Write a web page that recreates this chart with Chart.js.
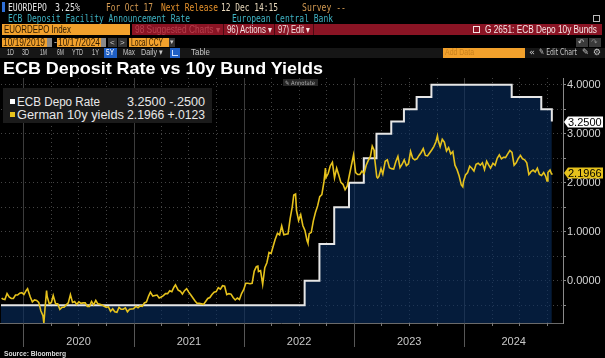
<!DOCTYPE html>
<html><head><meta charset="utf-8">
<script src="https://cdn.jsdelivr.net/npm/chart.js@4.4.1/dist/chart.umd.min.js"></script>
<style>
html,body{margin:0;padding:0;background:#000;width:605px;height:358px;overflow:hidden}
#wrap{position:relative;width:605px;height:358px}
#c{position:absolute;left:0;top:0}
.t{position:absolute;white-space:nowrap;transform-origin:0 50%}
.b{position:absolute;box-sizing:border-box}
</style></head><body>
<div id="wrap"><canvas id="c" width="605" height="358"></canvas><div id="ov"></div></div>
<script>
// ---------------- DATA ----------------
const ecbDates = ['2019-10-19','2022-07-21','2022-09-08','2022-10-27','2022-12-15','2023-02-02','2023-03-16','2023-05-04','2023-06-15','2023-07-27','2023-09-14','2024-06-06','2024-09-12','2024-10-17'];
const ecbValues = [-0.5,0,0.75,1.5,2.0,2.5,3.0,3.25,3.5,3.75,4.0,3.75,3.5,3.25];

const yieldDates = ['2019-10-21','2019-10-25','2019-11-01','2019-11-08','2019-11-15','2019-11-22','2019-11-29','2019-12-06','2019-12-13','2019-12-20','2019-12-27',
'2020-01-03','2020-01-10','2020-01-15','2020-01-24','2020-01-31','2020-02-07','2020-02-14','2020-02-21','2020-02-28','2020-03-06','2020-03-09','2020-03-13','2020-03-18','2020-03-20','2020-03-27','2020-04-03','2020-04-09','2020-04-17','2020-04-24','2020-05-01','2020-05-08','2020-05-15','2020-05-22','2020-05-29','2020-06-05','2020-06-12','2020-06-19','2020-06-26','2020-07-03','2020-07-10','2020-07-17','2020-07-24','2020-07-31','2020-08-07','2020-08-14','2020-08-21','2020-08-28','2020-09-04','2020-09-11','2020-09-18','2020-09-25','2020-10-02','2020-10-09','2020-10-16','2020-10-23','2020-10-30','2020-11-06','2020-11-13','2020-11-20','2020-11-27','2020-12-04','2020-12-11','2020-12-18','2020-12-31',
'2021-01-08','2021-01-15','2021-01-22','2021-01-29','2021-02-05','2021-02-12','2021-02-19','2021-02-25','2021-03-05','2021-03-12','2021-03-19','2021-03-26','2021-04-02','2021-04-09','2021-04-16','2021-04-23','2021-04-30','2021-05-07','2021-05-14','2021-05-19','2021-05-28','2021-06-04','2021-06-11','2021-06-18','2021-06-25','2021-07-02','2021-07-09','2021-07-16','2021-07-23','2021-07-30','2021-08-06','2021-08-13','2021-08-20','2021-08-27','2021-09-03','2021-09-10','2021-09-17','2021-09-24','2021-10-01','2021-10-08','2021-10-15','2021-10-22','2021-10-29','2021-11-05','2021-11-12','2021-11-19','2021-11-26','2021-12-03','2021-12-10','2021-12-17','2021-12-24','2021-12-31',
'2022-01-07','2022-01-14','2022-01-21','2022-01-28','2022-02-04','2022-02-11','2022-02-16','2022-02-18','2022-02-25','2022-03-04','2022-03-11','2022-03-18','2022-03-25','2022-04-01','2022-04-08','2022-04-14','2022-04-22','2022-04-29','2022-05-06','2022-05-13','2022-05-20','2022-05-27','2022-06-03','2022-06-10','2022-06-15','2022-06-21','2022-06-24','2022-07-01','2022-07-08','2022-07-15','2022-07-22','2022-07-29','2022-08-01','2022-08-05','2022-08-12','2022-08-19','2022-08-26','2022-09-02','2022-09-09','2022-09-16','2022-09-23','2022-09-28','2022-09-30','2022-10-07','2022-10-14','2022-10-21','2022-10-28','2022-11-04','2022-11-11','2022-11-18','2022-11-25','2022-12-02','2022-12-09','2022-12-16','2022-12-23','2022-12-30',
'2023-01-06','2023-01-13','2023-01-20','2023-01-27','2023-02-03','2023-02-10','2023-02-17','2023-02-24','2023-03-02','2023-03-08','2023-03-10','2023-03-17','2023-03-20','2023-03-24','2023-03-31','2023-04-06','2023-04-14','2023-04-21','2023-04-28','2023-05-05','2023-05-12','2023-05-19','2023-05-26','2023-06-02','2023-06-09','2023-06-16','2023-06-23','2023-06-30','2023-07-07','2023-07-14','2023-07-21','2023-07-28','2023-08-04','2023-08-11','2023-08-18','2023-08-25','2023-09-01','2023-09-08','2023-09-15','2023-09-22','2023-09-29','2023-10-04','2023-10-06','2023-10-13','2023-10-20','2023-10-27','2023-11-03','2023-11-10','2023-11-17','2023-11-24','2023-12-01','2023-12-08','2023-12-15','2023-12-22','2023-12-27','2023-12-29',
'2024-01-05','2024-01-12','2024-01-19','2024-01-26','2024-02-02','2024-02-09','2024-02-16','2024-02-23','2024-03-01','2024-03-08','2024-03-15','2024-03-22','2024-03-28','2024-04-05','2024-04-12','2024-04-19','2024-04-26','2024-05-03','2024-05-10','2024-05-17','2024-05-24','2024-05-31','2024-06-07','2024-06-14','2024-06-21','2024-06-28','2024-07-05','2024-07-12','2024-07-19','2024-07-26','2024-08-02','2024-08-05','2024-08-09','2024-08-16','2024-08-23','2024-08-30','2024-09-06','2024-09-13','2024-09-20','2024-09-27','2024-10-01','2024-10-04','2024-10-11','2024-10-16','2024-10-17'];
const yieldValues = [-0.35,-0.37,-0.38,-0.26,-0.33,-0.36,-0.36,-0.29,-0.29,-0.25,-0.24,
-0.28,-0.20,-0.16,-0.33,-0.43,-0.39,-0.40,-0.44,-0.61,-0.71,-0.86,-0.55,-0.20,-0.32,-0.47,-0.44,-0.30,-0.47,-0.47,-0.58,-0.54,-0.54,-0.49,-0.45,-0.28,-0.44,-0.42,-0.48,-0.43,-0.46,-0.45,-0.45,-0.52,-0.52,-0.42,-0.49,-0.40,-0.47,-0.48,-0.49,-0.52,-0.54,-0.53,-0.62,-0.57,-0.63,-0.64,-0.54,-0.58,-0.58,-0.55,-0.63,-0.58,-0.57,
-0.52,-0.55,-0.51,-0.52,-0.45,-0.43,-0.31,-0.23,-0.31,-0.30,-0.29,-0.35,-0.33,-0.30,-0.26,-0.26,-0.20,-0.22,-0.13,-0.08,-0.19,-0.21,-0.27,-0.20,-0.16,-0.23,-0.29,-0.35,-0.41,-0.46,-0.46,-0.47,-0.48,-0.42,-0.36,-0.34,-0.28,-0.23,-0.22,-0.14,-0.17,-0.10,-0.11,-0.28,-0.26,-0.27,-0.34,-0.39,-0.35,-0.38,-0.26,-0.18,
-0.05,-0.05,-0.06,-0.05,0.20,0.29,0.30,0.19,0.21,-0.07,0.27,0.37,0.58,0.56,0.71,0.84,0.97,0.94,1.12,0.94,0.95,0.96,1.27,1.51,1.75,1.77,1.44,1.23,1.35,1.13,1.03,0.82,0.77,0.96,0.99,1.23,1.40,1.53,1.72,1.76,2.02,2.30,2.11,2.19,2.35,2.42,2.10,2.30,2.16,2.01,1.97,1.86,1.93,2.15,2.36,2.57,
2.21,2.17,2.17,2.24,2.19,2.36,2.46,2.54,2.75,2.67,2.50,2.12,2.10,2.13,2.29,2.18,2.44,2.47,2.31,2.29,2.28,2.43,2.54,2.31,2.38,2.47,2.35,2.39,2.64,2.50,2.47,2.49,2.56,2.62,2.70,2.56,2.55,2.61,2.67,2.74,2.84,2.96,2.88,2.74,2.89,2.83,2.65,2.72,2.59,2.64,2.36,2.27,2.14,1.96,1.92,2.02,
2.16,2.21,2.34,2.30,2.24,2.38,2.40,2.36,2.41,2.27,2.44,2.36,2.30,2.40,2.36,2.50,2.57,2.49,2.52,2.52,2.59,2.66,2.62,2.36,2.41,2.50,2.56,2.49,2.47,2.41,2.17,2.19,2.23,2.26,2.22,2.30,2.17,2.15,2.21,2.13,2.04,2.21,2.26,2.18,2.1966];

const yearLabels = ['2020','2021','2022','2023','2024'];
const yTickValues = [-0.5,0,0.5,1,1.5,2,2.5,3,3.5,4];
const seriesNames = ['ECB Depo Rate','German 10y yields'];
const seriesLast = ['3.2500','2.1966'];
const seriesChange = ['-.2500','+.0123'];
const xStart = '2019-10-19', xEnd = '2024-11-23';

// ---------------- HELPERS ----------------
const ts = s => Date.parse(s + 'T00:00:00Z');
const ECB_COL = '#e6e6e6', YLD_COL = '#e6c21c';
const FONT = "'Liberation Sans', Arial, sans-serif";
const MONO = "'DejaVu Sans Mono', 'Liberation Mono', monospace";
const DJ = "'DejaVu Sans', sans-serif";
const ov = document.getElementById('ov');

function box(x,y,w,h,bg,extra){const d=document.createElement('div');d.className='b';Object.assign(d.style,{left:x+'px',top:y+'px',width:w+'px',height:h+'px',background:bg});if(extra)Object.assign(d.style,extra);ov.appendChild(d);return d;}
function txt(x,yc,w,s,color,font,size,weight){const d=document.createElement('div');d.className='t';d.textContent=s;Object.assign(d.style,{left:x+'px',top:(yc-size/2)+'px',fontFamily:font,fontSize:size+'px',lineHeight:size+'px',color:color,fontWeight:weight||'normal'});ov.appendChild(d);if(w){const nat=d.getBoundingClientRect().width;if(nat>0)d.style.transform='scaleX('+(w/nat)+')';}return d;}

// ---------------- HEADER ----------------
const ORANGE='#f2a12c', RED='#8a1424';
box(2,2,3,10,'#2e6fd8');
txt(8,7,39,'EUORDEPO','#e4e4e4',MONO,11);
txt(55,7,25,'3.25%','#e4e4e4',MONO,11);
txt(106,7,47,'For Oct 17','#d39a52',MONO,11);
txt(161,7,57,'Next Release','#e6922c',MONO,11);
txt(221,7,57,'12 Dec 14:15','#e8d8bc',MONO,11);
txt(302,7,44,'Survey --','#d39a52',MONO,11);
txt(8,18,182,'ECB Deposit Facility Announcement Rate','#3fb3c4',MONO,11);
txt(232,18,101,'European Central Bank','#3fb3c4',MONO,11);
box(593,15,7,7,'transparent',{border:'1px solid #bbb'});
// row 3
box(2,24,128,11,ORANGE);
txt(4,29.5,67,'EUORDEPO Index','#2e1a00',FONT,11);
box(132,24,470,11,RED);
txt(135,29.5,85,'98 Suggested Charts ▾','#b8404e',FONT,10);
box(223,24,1,11,'#4a0a12');
txt(227,29.5,45,'96) Actions ▾','#f3e2e2',FONT,10);
box(274,24,1,11,'#4a0a12');
txt(278,29.5,32,'97) Edit ▾','#f3e2e2',FONT,10);
box(313,24,1,11,'#4a0a12');
box(473,26,7,7,'transparent',{border:'1px solid #f3e2e2'});
txt(485,29.5,112,'G 2651: ECB Depo 10y Bunds','#f6e8e8',FONT,10);
// row 4
box(2,38,45,9,ORANGE);
txt(3,42.5,42,'10/19/2019','#2e1a00',FONT,10);
box(47,38,5,9,'#8a8a8a');
txt(54,42.5,0,'-','#dddddd',FONT,9);
box(57,38,44,9,ORANGE);
txt(58,42.5,42,'10/17/2024','#2e1a00',FONT,10);
box(101,38,5,9,'#8a8a8a');
box(108,38,9,9,'#333');
txt(110,42.5,0,'<','#cccccc',FONT,8);
box(118,38,9,9,'#333');
txt(120,42.5,0,'>','#cccccc',FONT,8);
box(129,38,40,9,ORANGE);
txt(131,42.5,32,'Local CCY','#2e1a00',FONT,10);
box(169,38,6,9,'#333');
txt(170,42.5,0,'▾','#cccccc',DJ,7);
box(576,38,12,9,'#3a3a3a');
txt(578,42.5,0,'↶','#cccccc',DJ,8);
box(589,38,12,9,'#3a3a3a');
txt(591,42.5,0,'↷','#888888',DJ,8);
// row 5
box(0,48,605,10,'#161616');
const r5=[[7,7,'1D'],[22,7,'3D'],[40,7,'1M'],[57,7,'6M'],[72,11,'YTD'],[92,7,'1Y']];
r5.forEach(r=>txt(r[0],52.8,r[1],r[2],'#c6c6c6',FONT,9));
box(104,48,13,10,'#1f5fc4');
txt(106,52.8,8,'5Y','#ffffff',FONT,9);
txt(123,52.8,12,'Max','#c6c6c6',FONT,9);
txt(141,52.8,22,'Daily ▾','#c6c6c6',FONT,9);
box(170,48,10,10,'#1f5fc4');
box(172,50,6,6,'transparent',{borderLeft:'1px solid #cfe0ff',borderBottom:'1px solid #cfe0ff'});
txt(191,52.8,19,'Table','#c6c6c6',FONT,9);
box(443,48,82,10,ORANGE);
txt(445,52.8,29,'Add Data','#c9801c',FONT,9);
txt(529,52.8,6,'«','#c6c6c6',DJ,9);
txt(539,52.8,38,'✎ Edit Chart','#c6c6c6',DJ,9);
txt(582,52.8,7,'✎','#c6c6c6',DJ,9);
txt(593,52.8,8,'⚙','#c6c6c6',DJ,9);

// title
txt(3,68.5,320,'ECB Deposit Rate vs 10y Bund Yields','#ffffff',FONT,17,'bold');

// ---------------- CHART ----------------
const xMin = ts(xStart), xMax = ts(xEnd);
const yearStarts = yearLabels.map(y => ts(y + '-01-01'));
const labelPos = yearStarts.map((s,i) => {
  const e = i < yearStarts.length - 1 ? yearStarts[i+1] : xMax;
  return (s + Math.min(e, xMax)) / 2;
});
const quarterStarts = [];
for (let y = 2019; y <= 2024; y++) for (const m of ['01','04','07','10']) {
  const v = ts(y + '-' + m + '-01'); if (v > xMin && v < xMax) quarterStarts.push(v);
}

const decor = {
  id: 'decor',
  beforeDatasetsDraw(chart) {
    const {ctx, chartArea: a, scales: {x}} = chart;
    ctx.save();
    ctx.lineWidth = 1;
    quarterStarts.forEach(q => {
      const px = Math.round(x.getPixelForValue(q)) + 0.5;
      const isYear = new Date(q).getUTCMonth() === 0;
      ctx.strokeStyle = isYear ? '#3c3c3c' : '#444444';
      ctx.setLineDash(isYear ? [] : [1, 3]);
      ctx.beginPath(); ctx.moveTo(px, a.top); ctx.lineTo(px, a.bottom); ctx.stroke();
    });
    ctx.restore();
  },
  afterDraw(chart) {
    const {ctx, chartArea: a, scales: {x, y}} = chart;
    ctx.save();
    ctx.setLineDash([]);
    ctx.strokeStyle = '#6a6a6a'; ctx.lineWidth = 1;
    ctx.beginPath(); ctx.moveTo(0, a.bottom + 0.5); ctx.lineTo(a.right, a.bottom + 0.5); ctx.stroke();
    quarterStarts.forEach(q => {
      const px = Math.round(x.getPixelForValue(q)) + 0.5;
      const isYear = new Date(q).getUTCMonth() === 0;
      ctx.strokeStyle = isYear ? '#575757' : '#7a7a7a';
      ctx.beginPath(); ctx.moveTo(px, a.bottom); ctx.lineTo(px, isYear ? a.bottom + 24 : a.bottom + 3); ctx.stroke();
    });
    const tags = [
      {v: ecbValues[ecbValues.length-1], txt: seriesLast[0], bg: '#ffffff'},
      {v: yieldValues[yieldValues.length-1], txt: seriesLast[1], bg: YLD_COL}
    ];
    tags.forEach(t => {
      const py = Math.round(y.getPixelForValue(t.v));
      ctx.fillStyle = t.bg;
      ctx.beginPath();
      ctx.moveTo(a.right + 1, py); ctx.lineTo(a.right + 5, py - 5.5); ctx.lineTo(603, py - 5.5);
      ctx.lineTo(603, py + 5.5); ctx.lineTo(a.right + 5, py + 5.5); ctx.closePath(); ctx.fill();
      ctx.fillStyle = '#000'; ctx.font = '11px ' + FONT; ctx.textBaseline = 'middle'; ctx.textAlign = 'left';
      ctx.fillText(t.txt, a.right + 5, py + 0.5);
    });
    ctx.restore();
  }
};

const chart = new Chart(document.getElementById('c'), {
  type: 'line',
  data: {
    datasets: [
      {
        label: seriesNames[1],
        data: yieldDates.map((d,i) => ({x: ts(d), y: yieldValues[i]})),
        borderColor: YLD_COL, borderWidth: 1.6, pointRadius: 0, fill: false, tension: 0, order: 0
      },
      {
        label: seriesNames[0],
        data: ecbDates.map((d,i) => ({x: ts(d), y: ecbValues[i]})),
        borderColor: ECB_COL, borderWidth: 2, pointRadius: 0, stepped: 'before',
        fill: 'start', backgroundColor: 'rgba(8,45,95,0.62)', order: 1
      }
    ]
  },
  options: {
    responsive: false, animation: false, devicePixelRatio: 1,
    layout: {padding: {top: 78, left: 1, right: 0, bottom: 0}},
    plugins: {legend: {display: false}, tooltip: {enabled: false}},
    scales: {
      x: {
        type: 'linear', min: xMin, max: xMax, position: 'bottom',
        afterFit: s => { s.height = 35; },
        afterBuildTicks: s => { s.ticks = labelPos.map(v => ({value: v})); },
        grid: {display: false, drawTicks: false},
        border: {display: false},
        ticks: {autoSkip: false, maxRotation: 0, minRotation: 0, padding: 12, color: '#c8c8c8',
          font: {family: FONT, size: 11},
          callback: (v, i) => yearLabels[i] || ''}
      },
      y: {
        type: 'linear', position: 'right', min: -0.86, max: 4.14,
        afterFit: s => { s.width = 42; },
        afterBuildTicks: s => { s.ticks = yTickValues.map(v => ({value: v})); },
        grid: {color: '#444444', tickColor: '#8a8a8a', tickLength: 3, lineWidth: 1},
        border: {display: true, color: '#8a8a8a', dash: [1, 3]},
        ticks: {padding: 1, color: '#d4d4d4', font: {family: FONT, size: 11},
          callback: v => Number.isInteger(v) ? v.toFixed(4) : ''}
      }
    }
  },
  plugins: [decor]
});

// ---------------- OVERLAYS ----------------
box(283,79,35,7,'#262626');
txt(285,82.5,30,'✎ Annotate','#aaaaaa',DJ,6);
box(3,88,209,35,'#1b1b1b');
box(10,99,5,5,'#ffffff');
box(10,112,5,5,YLD_COL);
txt(17,102,83,seriesNames[0],'#e8e8e8',FONT,12);
txt(127,102,78,seriesLast[0] + ' ' + seriesChange[0],'#e8e8e8',FONT,12);
txt(17,114.5,107,seriesNames[1],'#e8e8e8',FONT,12);
txt(127,114.5,78,seriesLast[1] + ' ' + seriesChange[1],'#e8e8e8',FONT,12);
txt(4,353,62,'Source: Bloomberg','#dddddd',FONT,7,'bold');
</script>
</body></html>
